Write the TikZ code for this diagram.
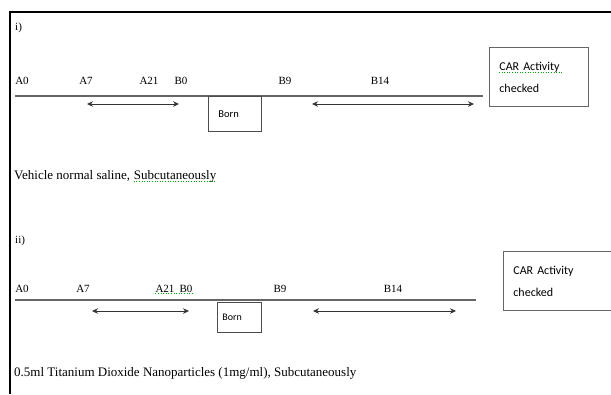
\documentclass[tikz,border=0pt]{standalone}
\usepackage{fontspec}
\setmainfont{Liberation Serif}
\newfontfamily\boxfont{Carlito}
\usetikzlibrary{arrows.meta}
\begin{document}
\begin{tikzpicture}[x=1pt,y=-1pt,
  lbl/.style={font=\fontsize{11}{12}\selectfont, inner sep=0pt, anchor=base},
  note/.style={font=\fontsize{13}{15}\selectfont, inner sep=0pt, anchor=base west},
  tline/.style={draw=black!60, line width=1.3pt},
  span/.style={draw=black!80, line width=0.8pt, {Stealth[length=6pt,width=5.5pt]}-{Stealth[length=6pt,width=5.5pt]}},
  bornbox/.style={draw=black!70, line width=0.7pt, font=\boxfont\fontsize{10.5}{12}\selectfont, inner ysep=0pt, anchor=north west, align=left},
  carbox/.style={draw=black!60, line width=0.8pt, font=\boxfont\fontsize{12}{22}\selectfont, inner ysep=0pt, anchor=north west, align=left},
  spell/.style={draw=green!65!black, line width=0.6pt, dotted}
]
\useasboundingbox (0,0) rectangle (611,394);
\fill[white] (0,0) rectangle (611,394);
% frame
\coordinate (fl) at (10,394);
\coordinate (fc) at (10,12);
\coordinate (fr) at (611,12);
\draw[line width=2pt] (fl) -- (fc) -- (fr);

% ---------- section i ----------
\node[note, font=\fontsize{11}{12}\selectfont] (ni) at (15,30) {i)};
\node[lbl] (a0i) at (22,84) {A0};
\node[lbl] (a7i) at (86,84) {A7};
\node[lbl] (a21i) at (149,84) {A21};
\node[lbl] (b0i) at (181,84) {B0};
\node[lbl] (b9i) at (285,84) {B9};
\node[lbl] (b14i) at (380,84) {B14};
\coordinate (li1) at (15,96);
\coordinate (li2) at (483,96);
\draw[tline] (li1) -- (li2);
\coordinate (ai1) at (87,104);
\coordinate (ai2) at (179,104);
\draw[span] (ai1) -- (ai2);
\coordinate (ai3) at (312,104);
\coordinate (ai4) at (474,104);
\draw[span] (ai3) -- (ai4);
\node[bornbox, minimum height=35pt, inner xsep=10pt, text width=33pt] (borni) at (208,96) {Born};
\node[carbox, minimum height=59pt, text width=79pt, inner xsep=10pt] (cari) at (489,47) {CAR Activity\\checked};
\coordinate (spc1) at ([xshift=10pt,yshift=-25pt]cari.north west);
\draw[spell] (spc1) -- ++(64,0);
\node[note] (vi) at (14,179) {Vehicle normal saline,};
\node[note, anchor=base west, xshift=3.5pt] (vis) at (vi.base east) {Subcutaneously};
\draw[spell] ([yshift=-2pt]vis.base west) -- ([yshift=-2pt]vis.base east);

% ---------- section ii ----------
\node[note, font=\fontsize{11}{12}\selectfont] (nii) at (15,243) {ii)};
\node[lbl] (a0ii) at (22,292) {A0};
\node[lbl] (a7ii) at (83,292) {A7};
\node[lbl] (a21ii) at (165,292) {A21};
\node[lbl] (b0ii) at (186,292) {B0};
\draw[spell] ([yshift=-1.5pt]a21ii.base west) -- ([yshift=-1.5pt]b0ii.base east);
\node[lbl] (b9ii) at (280,292) {B9};
\node[lbl] (b14ii) at (393,292) {B14};
\coordinate (lii1) at (15,300);
\coordinate (lii2) at (476,300);
\draw[tline] (lii1) -- (lii2);
\coordinate (aii1) at (92,311);
\coordinate (aii2) at (189,311);
\draw[span] (aii1) -- (aii2);
\coordinate (aii3) at (313,311);
\coordinate (aii4) at (456,311);
\draw[span] (aii3) -- (aii4);
\node[bornbox, minimum height=30pt, inner xsep=5pt, text width=34pt, font=\boxfont\fontsize{10}{12}\selectfont] (bornii) at (217,302) {Born};
\node[carbox, minimum height=59pt, text width=95pt, inner xsep=10pt] (carii) at (503,251) {CAR Activity\\checked};
\node[note] (vii) at (14,376) {0.5ml Titanium Dioxide Nanoparticles (1mg/ml), Subcutaneously};
\end{tikzpicture}
\end{document}
